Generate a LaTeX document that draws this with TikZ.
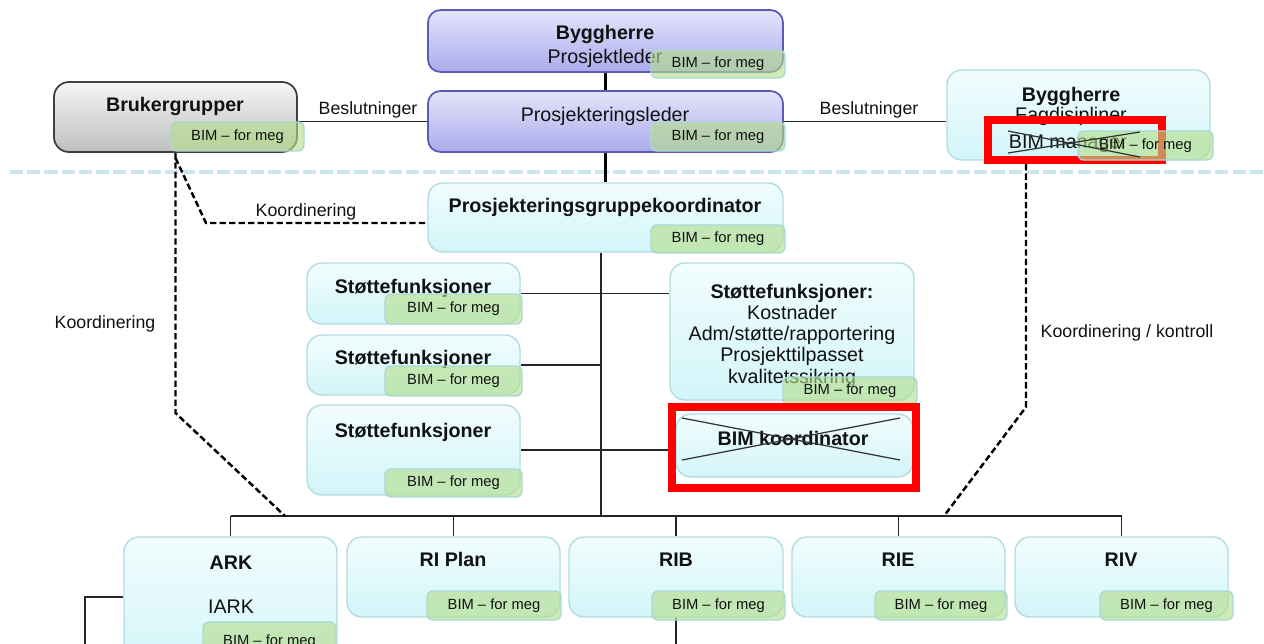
\documentclass[tikz,border=0pt]{standalone}
\usepackage{fontspec}
\setmainfont{Liberation Sans}
\usetikzlibrary{calc}
\pgfdeclarelayer{bg}
\pgfsetlayers{bg,main}

\definecolor{cyantop}{HTML}{F2FDFE}
\definecolor{cyanbot}{HTML}{D2F5F9}
\definecolor{cyanborder}{HTML}{B3DCE0}
\definecolor{lavtop}{HTML}{E4E4FB}
\definecolor{lavbot}{HTML}{ABABEC}
\definecolor{lavborder}{HTML}{5B5BB5}
\definecolor{badgegreen}{HTML}{B5DE8A}
\definecolor{badgeborder}{HTML}{A9D9D6}
\definecolor{sepblue}{HTML}{CBE7EE}
\definecolor{ink}{HTML}{111111}

% box from corner (x1,y1) to (x2,y2), given in pixel units
\newcommand\mkbox[6]{\node[#6, minimum width={(#4-#2)*0.02cm}, minimum height={(#5-#3)*0.02cm}] (#1) at ({(#2+#4)/2},{(#3+#5)/2}) {};}
\newcommand\mkbadge[5]{\node[badge, minimum width={(#4-#2)*0.02cm}, minimum height={(#5-#3)*0.02cm}] (#1) at ({(#2+#4)/2},{(#3+#5)/2}) {BIM – for meg};}

\begin{document}
\begin{tikzpicture}[x=0.02cm,y=-0.02cm,
  cbox/.style={draw=cyanborder, line width=0.8pt, rounded corners=0.3cm, top color=cyantop, bottom color=cyanbot, inner sep=0pt},
  lbox/.style={draw=lavborder, line width=1pt, rounded corners=0.25cm, top color=lavtop, bottom color=lavbot, inner sep=0pt},
  gbox/.style={draw=black!75, line width=1pt, rounded corners=0.3cm, top color=black!4, bottom color=black!25, inner sep=0pt},
  badge/.style={draw=badgeborder, line width=0.8pt, rounded corners=0.12cm, fill=badgegreen, fill opacity=0.62, text opacity=1, text=ink, font=\fontsize{8.4}{10}\selectfont, inner sep=0pt},
  redframe/.style={draw=red, line width=0.16cm, inner sep=0pt},
  title/.style={anchor=base, text=ink, font=\bfseries\fontsize{11.2}{13}\selectfont},
  body/.style={anchor=base, text=ink, font=\fontsize{11.2}{13}\selectfont},
  lbl/.style={anchor=base, text=ink, font=\fontsize{10.1}{12}\selectfont},
  conn/.style={draw=black!85, line width=1pt},
  connthick/.style={draw=black, line width=1.6pt},
  dconn/.style={draw=black, line width=1.4pt, dash pattern=on 3.6pt off 1.8pt},
  sepline/.style={draw=sepblue, line width=2.2pt, dash pattern=on 7.5pt off 2.3pt},
  xline/.style={draw=black!80, line width=0.7pt}]

\useasboundingbox (0,0) rectangle (1264,643);
\clip (0,0) rectangle (1264,643);

% --- top management level ---
\mkbox{bh1}{428}{10}{783}{72}{lbox}
\node[title] at (605,39) {Byggherre};
\node[body] at (605,63) {Prosjektleder};
\mkbadge{b1}{651}{50}{785}{78}

\mkbox{pl}{428}{91}{783}{152}{lbox}
\node[body] at (605,121) {Prosjekteringsleder};
\mkbadge{b2}{651}{122}{785}{151}

\mkbox{bruk}{54}{82}{297}{152}{gbox}
\node[title] at (175,111) {Brukergrupper};
\mkbadge{b3}{171}{122}{304}{151}

\mkbox{bh2}{947}{70}{1210}{160}{cbox}
\node[title] at (1071,101) {Byggherre};
\node[body] at (1071,121) {Fagdisipliner};
\node[body] at (1068,148) {BIM manager};
\mkbox{bimm}{988}{120}{1162}{160}{redframe}
\mkbadge{b4}{1078}{131}{1213}{160}
\draw[xline] (1008,131) -- (1140,157);
\draw[xline] (1008,153) -- (1140,132);

% --- design group ---
\mkbox{pgk}{428}{183}{783}{252}{cbox}
\node[title] at (605,212) {Prosjekteringsgruppekoordinator};
\mkbadge{b5}{651}{225}{785}{253}

\mkbox{sf1}{307}{263}{520}{324}{cbox}
\node[title] at (413,293) {Støttefunksjoner};
\mkbadge{b6}{385}{294}{522}{324}

\mkbox{sf2}{307}{335}{520}{395}{cbox}
\node[title] at (413,364) {Støttefunksjoner};
\mkbadge{b7}{385}{366}{522}{396}

\mkbox{sf3}{307}{405}{520}{495}{cbox}
\node[title] at (413,437) {Støttefunksjoner};
\mkbadge{b8}{385}{469}{522}{497}

\mkbox{sfr}{670}{263}{914}{400}{cbox}
\node[title] at (792,298) {Støttefunksjoner:};
\node[body] at (792,319) {Kostnader};
\node[body] at (792,340) {Adm/støtte/rapportering};
\node[body] at (792,361) {Prosjekttilpasset};
\node[body] at (792,383) {kvalitetssikring};
\mkbadge{b9}{783}{377}{917}{405}

\mkbox{bimkin}{676}{414}{913}{477}{cbox}
\mkbox{bimk}{672}{407}{916}{488}{redframe}
\node[title] at (793,445) {BIM koordinator};
\draw[xline] (682,418) -- (900,460);
\draw[xline] (682,460) -- (900,418);

% --- disciplines ---
\mkbox{ark}{124}{537}{337}{670}{cbox}
\node[title] at (231,569) {ARK};
\node[body] at (231,613) {IARK};
\mkbadge{b10}{203}{622}{336}{662}

\mkbox{rip}{347}{537}{560}{617}{cbox}
\node[title] at (453,566) {RI Plan};
\mkbadge{b11}{427}{591}{561}{620}

\mkbox{rib}{569}{537}{783}{617}{cbox}
\node[title] at (676,566) {RIB};
\mkbadge{b12}{652}{591}{785}{620}

\mkbox{rie}{792}{537}{1005}{617}{cbox}
\node[title] at (898,566) {RIE};
\mkbadge{b13}{875}{591}{1007}{620}

\mkbox{riv}{1015}{537}{1228}{617}{cbox}
\node[title] at (1121,566) {RIV};
\mkbadge{b14}{1100}{591}{1233}{620}

% --- connector labels ---
\node[lbl] at (368,114) {Beslutninger};
\node[lbl] at (869,114) {Beslutninger};
\node[lbl] at (306,216) {Koordinering};
\node[lbl] at (105,328) {Koordinering};
\node[lbl] at (1127,337) {Koordinering / kontroll};

% --- connectors, behind the boxes ---
\coordinate (sepl) at (10,172);
\coordinate (sepr) at (1264,172);
\coordinate (bus) at (601,516);
\coordinate (kl0) at (175.5,158);
\coordinate (kl1) at (175.5,413);
\coordinate (kl2) at (285,516);
\coordinate (kb1) at (206,223);
\coordinate (kr1) at (1026,407);
\coordinate (kr2) at (944,516);
\coordinate (a1) at (85,597);
\coordinate (al) at (85,660);

\begin{pgfonlayer}{bg}
  \draw[sepline] (sepl) -- (sepr);
  \draw[connthick] (bh1.south) -- (pl.north);
  \draw[connthick] (pl.south) -- (pgk.north);
  \draw[conn] (pl.west) -- (pl.west -| bruk.east);
  \draw[conn] (pl.east) -- (pl.east -| bh2.west);
  \draw[conn] (pgk.south -| bus) -- (bus);
  \draw[conn] (ark.north |- bus) -- (riv.north |- bus);
  \foreach \n in {ark,rip,rib,rie,riv}
    \draw[conn] (\n.north |- bus) -- (\n.north);
  \draw[conn] (sf1.east) -- (sf1.east -| sfr.west);
  \draw[conn] (sf2.east) -- (sf2.east -| bus);
  \draw[conn] (sf3.east) -- (sf3.east -| bimk.west);
  \draw[conn] (a1 -| ark.west) -- (a1) -- (al);
  \draw[conn] (rib.south) -- (rib.south |- al);
  \draw[dconn] (bruk.south) -- (kl1) -- (kl2);
  \draw[dconn] (kl0) -- (kb1) -- (kb1 -| pgk.west);
  \draw[dconn] (bimm.south -| kr1) -- (kr1) -- (kr2);
\end{pgfonlayer}
\end{tikzpicture}
\end{document}
